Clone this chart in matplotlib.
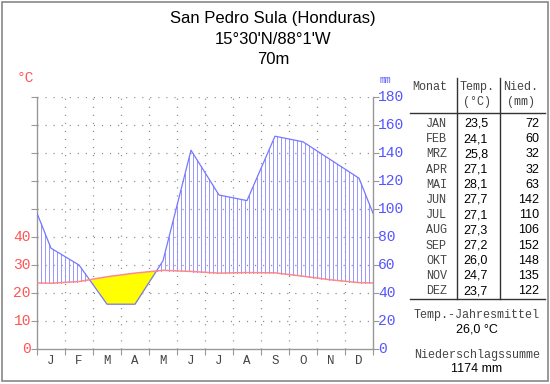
import numpy as np
import matplotlib
matplotlib.use("Agg")
import matplotlib.pyplot as plt
from matplotlib.patches import Rectangle
from matplotlib.lines import Line2D

plt.rcParams['lines.scale_dashes'] = False

# ---- data ----
months_short = ["J", "F", "M", "A", "M", "J", "J", "A", "S", "O", "N", "D"]
months_table = ["JAN", "FEB", "MRZ", "APR", "MAI", "JUN", "JUL", "AUG", "SEP", "OKT", "NOV", "DEZ"]
temp = [23.5, 24.1, 25.8, 27.1, 28.1, 27.7, 27.1, 27.3, 27.2, 26.0, 24.7, 23.7]
prec = [72, 60, 32, 32, 63, 142, 110, 106, 152, 148, 135, 122]
temp_labels = ["23,5", "24,1", "25,8", "27,1", "28,1", "27,7", "27,1", "27,3", "27,2", "26,0", "24,7", "23,7"]
title_lines = ["San Pedro Sula (Honduras)", "15°30'N/88°1'W", "70m"]
left_ticks = [0, 10, 20, 30, 40]
right_ticks = [0, 20, 40, 60, 80, 100, 120, 140, 160, 180]
mean_temp = "26,0 °C"
total_prec = "1174 mm"

W, H = 550, 384
fig = plt.figure(figsize=(W / 100, H / 100), dpi=100)

def fx(px):
    return px / W

def fy(py):
    return 1 - py / H

MONO = "Liberation Mono"
SANS = "Liberation Sans"

# outer border
fig.add_artist(Rectangle((fx(2), fy(381)), fx(546), 379 / H, transform=fig.transFigure,
                         fill=False, edgecolor="#888888", linewidth=1.2))

# axes
L, R, T, B = 37, 373, 97, 349
ax = fig.add_axes([fx(L), fy(B), (R - L) / W, (B - T) / H])
ax.set_xlim(0, 12)
ax.set_ylim(0, 90)

# data with wrap-around
xc = np.arange(12) + 0.5
t_arr = np.array(temp)
p_arr = np.array(prec) / 2.0
edge_t = (t_arr[-1] + t_arr[0]) / 2
edge_p = (p_arr[-1] + p_arr[0]) / 2
xs = np.concatenate([[0], xc, [12]])
ts = np.concatenate([[edge_t], t_arr, [edge_t]])
ps = np.concatenate([[edge_p], p_arr, [edge_p]])

# grid
for yv in range(10, 100, 10):
    ax.plot([0, 12], [yv, yv], color="#888888", lw=0.9, linestyle=(0, (0.8, 5)), zorder=1)
for xv in range(1, 12):
    ax.plot([xv, xv], [0, 90], color="#888888", lw=0.9, linestyle=(0, (0.8, 5)), zorder=1)

# dense interpolation
xd = np.linspace(0, 12, 2000)
td = np.interp(xd, xs, ts)
pd_ = np.interp(xd, xs, ps)

# arid area
ax.fill_between(xd, pd_, td, where=pd_ <= td, interpolate=True, color="#ffff00", zorder=2, linewidth=0)

# humid hatching
xh = np.arange(0, 12.0001, 4 / 28)
th = np.interp(xh, xs, ts)
ph = np.interp(xh, xs, ps)
for x, a, b in zip(xh, th, ph):
    if b > a:
        ax.plot([x, x], [a, b], color="#9999ff", lw=0.72, zorder=2, antialiased=False)

ax.plot(xs, ps, color="#7777ff", lw=0.9, zorder=3)
ax.plot(xs, ts, color="#ff8888", lw=1.1, zorder=4)

# spines and ticks
for s in ["top"]:
    ax.spines[s].set_visible(False)
for s in ["left", "right", "bottom"]:
    ax.spines[s].set_color("#999999")
    ax.spines[s].set_linewidth(1.0)
ax.set_xticks(range(13))
ax.set_xticklabels([])
ax.tick_params(axis="x", length=4, color="#999999", direction="out")
ax.set_yticks(range(0, 100, 10))
ax.set_yticklabels([])
ax.tick_params(axis="y", length=4, color="#999999", direction="out", left=True, right=True)

# left tick labels (red)
for v in left_ticks:
    fig.text(fx(31), fy(B - v * 2.8), str(v), ha="right", va="center",
             color="#ff5555", fontsize=10.5, family=MONO)
# right tick labels (blue)
for v in right_ticks:
    fig.text(fx(378), fy(B - v * 1.4), str(v), ha="left", va="center",
             color="#5555ff", fontsize=10.5, family=MONO)
fig.text(fx(25), fy(78), "°C", ha="center", va="center", color="#ff5555", fontsize=10.5, family=MONO)
fig.text(fx(385), fy(80), "mm", ha="center", va="center", color="#5555ff", fontsize=7, family=MONO)

# month labels
for i, m in enumerate(months_short):
    fig.text(fx(L + 28 * (i + 0.5)), fy(361), m, ha="center", va="center",
             color="#444444", fontsize=9, family=MONO)

# title
for line, py in zip(title_lines, [19, 40, 59]):
    fig.text(fx(273), fy(py), line, ha="center", va="center", fontsize=12, family=SANS, color="black")

# table
fig.text(fx(430), fy(87), "Monat", ha="center", va="center", fontsize=8.5, family=MONO, color="#444444")
fig.text(fx(477), fy(87), "Temp.", ha="center", va="center", fontsize=8.5, family=MONO, color="#444444")
fig.text(fx(477), fy(102), "(°C)", ha="center", va="center", fontsize=8.5, family=MONO, color="#444444")
fig.text(fx(521), fy(87), "Nied.", ha="center", va="center", fontsize=8.5, family=MONO, color="#444444")
fig.text(fx(521), fy(102), "(mm)", ha="center", va="center", fontsize=8.5, family=MONO, color="#444444")

def fline(x0, y0, x1, y1, color="#333333", lw=1.0):
    fig.add_artist(Line2D([fx(x0), fx(x1)], [fy(y0), fy(y1)], transform=fig.transFigure,
                          color=color, linewidth=lw))

fline(457, 78, 457, 299)
fline(500, 78, 500, 299)
fline(410, 113, 545, 113)
fline(410, 299, 545, 299)

for i in range(12):
    py = 124 + i * 15.2
    fig.text(fx(447), fy(py), months_table[i], ha="right", va="center", fontsize=8.5, family=MONO, color="#444444")
    fig.text(fx(488), fy(py), temp_labels[i], ha="right", va="center", fontsize=9, family=SANS, color="black")
    fig.text(fx(539), fy(py), str(prec[i]), ha="right", va="center", fontsize=9, family=SANS, color="black")

fig.text(fx(477), fy(315), "Temp.-Jahresmittel", ha="center", va="center", fontsize=8.5, family=MONO, color="#444444")
fig.text(fx(477), fy(330), mean_temp, ha="center", va="center", fontsize=9, family=SANS, color="black")
fig.text(fx(477), fy(355), "Niederschlagssumme", ha="center", va="center", fontsize=8.5, family=MONO, color="#444444")
fig.text(fx(477), fy(369), total_prec, ha="center", va="center", fontsize=9, family=SANS, color="black")

fig.savefig("out.png", dpi=100)
